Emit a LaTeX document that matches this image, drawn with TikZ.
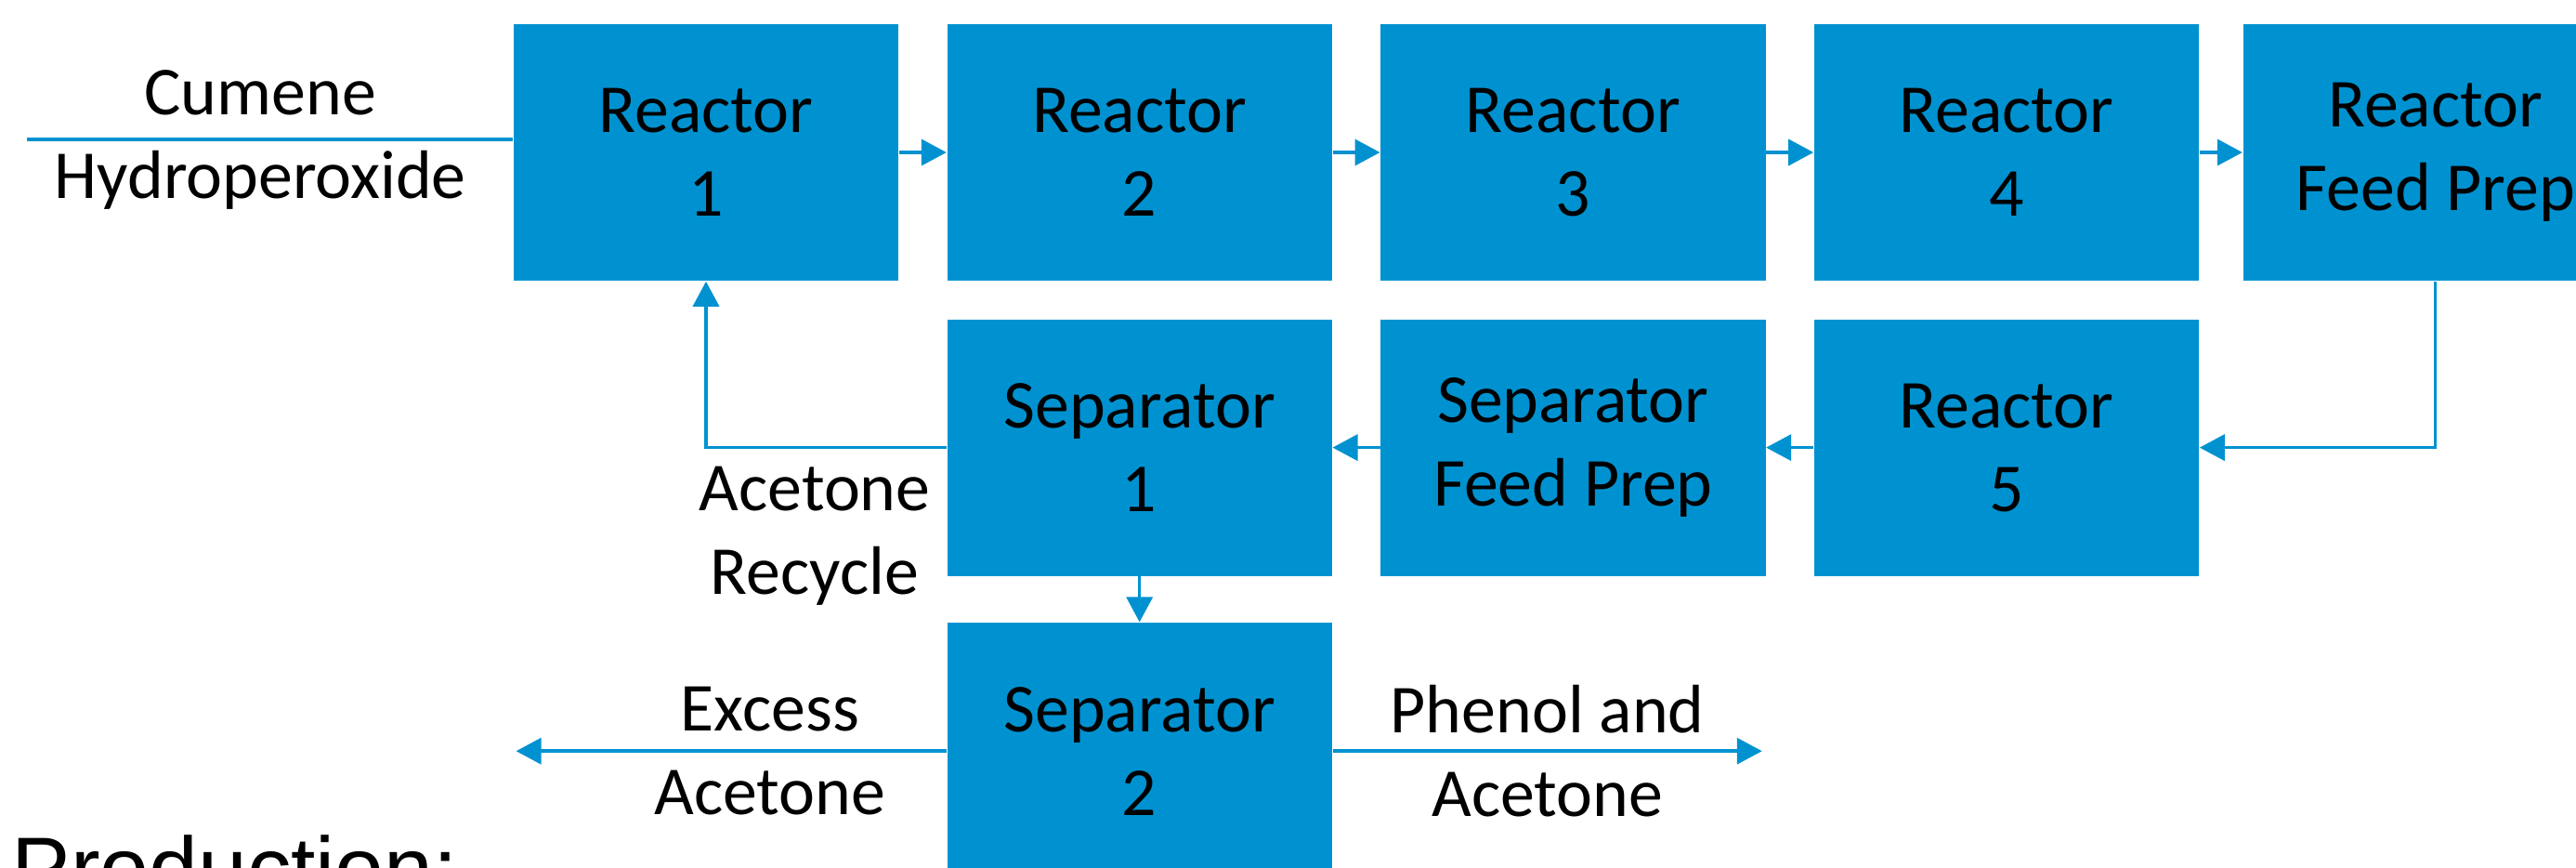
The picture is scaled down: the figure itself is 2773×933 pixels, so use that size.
\documentclass[tikz,border=0pt]{standalone}
\usepackage{fontspec}
\setmainfont{Carlito}
\newfontfamily\headfont{Liberation Sans}
\usetikzlibrary{positioning,arrows.meta,calc}
\definecolor{procblue}{RGB}{0,146,208}

\begin{document}
\begin{tikzpicture}[
    x=0.01cm, y=-0.01cm,
    node distance=0.51cm,
    unit/.style={rectangle, fill=procblue, minimum width=4.14cm, minimum height=2.76cm, inner sep=0pt, align=center, font=\fontsize{21}{25.6}\selectfont},
    lbl/.style={align=center, inner sep=0pt, font=\fontsize{21}{25.6}\selectfont},
    flow/.style={draw=procblue, line width=0.035cm, -{Triangle[length=0.27cm, width=0.28cm]}},
    feed/.style={draw=procblue, line width=0.035cm}
]
    \path[use as bounding box, clip] (0,0) rectangle (2773,933);

    % Reactors
    \node[unit] (r1) at (760,164) {Reactor\\1};
    \node[unit, right=of r1] (r2) {Reactor\\2};
    \node[unit, right=of r2] (r3) {Reactor\\3};
    \node[unit, right=of r3] (r4) {Reactor\\4};
    \node[unit, right=0.46cm of r4] (fprep) {Reactor\\Feed Prep};

    % Separation
    \node[unit, below=0.4cm of r4] (r5) {Reactor\\5};
    \node[unit, below=0.4cm of r3] (sfp) {Separator\\Feed Prep};
    \node[unit, below=0.4cm of r2] (sep1) {Separator\\1};
    \node[unit, below=0.49cm of sep1] (sep2) {Separator\\2};

    % Free ends
    \coordinate (cumin) at (29,150);
    \coordinate[left=4.63cm of sep2.west] (exout);
    \coordinate[right=4.62cm of sep2.east] (phout);

    % Connections
    \draw[feed] (cumin) -- node[lbl, pos=0.48] {Cumene\\Hydroperoxide} (cumin -| r1.west);
    \draw[flow] (r1) -- (r2);
    \draw[flow] (r2) -- (r3);
    \draw[flow] (r3) -- (r4);
    \draw[flow] (r4) -- (fprep);
    \draw[flow] (fprep.south) |- (r5.east);
    \draw[flow] (r5) -- (sfp);
    \draw[flow] (sfp) -- (sep1);
    \draw[flow] (sep1.west) -| (r1.south);
    \draw[flow] (sep1) -- (sep2);
    \draw[flow] (sep2.west) -- node[lbl, pos=0.41] {Excess\\Acetone} (exout);
    \draw[flow] (sep2.east) -- node[lbl] {Phenol and\\Acetone} (phout);

    % Labels
    \node[lbl] (recycle) at (877,577) {Acetone\\Recycle};
    \node[anchor=north west, inner sep=0pt, font=\headfont\fontsize{27}{32}\selectfont] (prod) at (12,898) {Production:};
\end{tikzpicture}
\end{document}
